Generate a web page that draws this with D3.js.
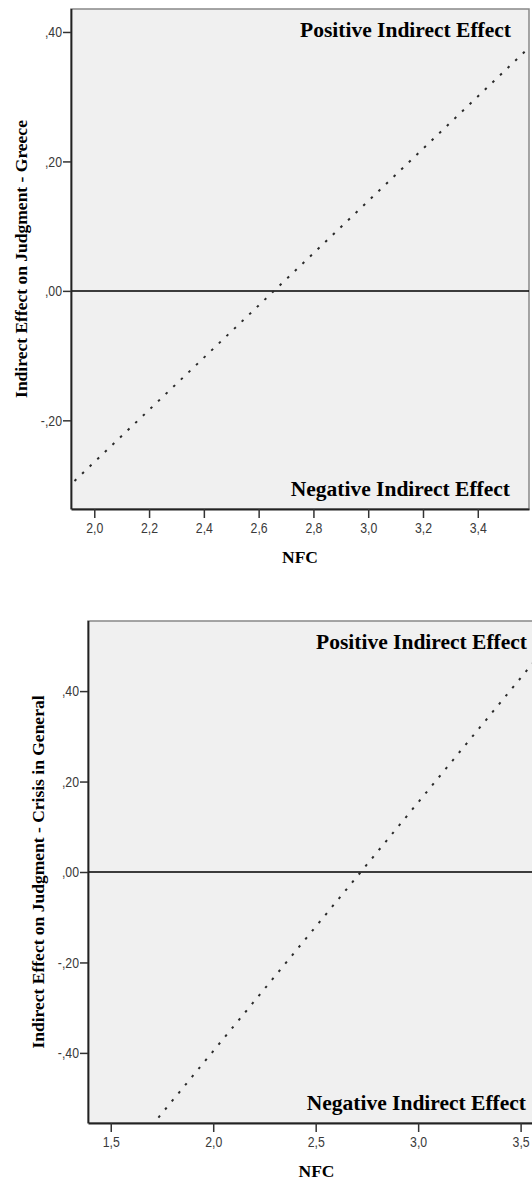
<!DOCTYPE html>
<html>
<head>
<meta charset="utf-8">
<script src="https://cdn.jsdelivr.net/npm/d3@7"></script>
<style>
  body { margin: 0; background: #fff; }
  .tick text { font-family: "Liberation Sans", Arial, sans-serif; font-size: 15px; fill: #3a3a3a; }
  .title { font-family: "Liberation Serif", "Times New Roman", serif; font-weight: bold; fill: #000; }
</style>
</head>
<body>
<div id="chart"></div>
<script>
// chart 1 - Greece
const greeceNfc = [1.9, 3.6];
const greeceEffect = [-0.305, 0.381];
const greeceXTicks = [2.0, 2.2, 2.4, 2.6, 2.8, 3.0, 3.2, 3.4];
const greeceYTicks = [-0.2, 0.0, 0.2, 0.4];

// chart 2 - crisis in general
const crisisNfc = [1.7, 3.6];
const crisisEffect = [-0.561, 0.484];
const crisisXTicks = [1.5, 2.0, 2.5, 3.0, 3.5];
const crisisYTicks = [-0.4, -0.2, 0.0, 0.2, 0.4];

const xTitle = "NFC";
const posLabel = "Positive Indirect Effect";
const negLabel = "Negative Indirect Effect";

const narrow = 0.82; // squeeze tick labels to look like a narrow font

const svg = d3.select("#chart").append("svg")
    .attr("width", 532)
    .attr("height", 1182);

// comma decimal like SPSS: 0.4 -> ",40"
const fmtY = d => {
  let s = Math.abs(d).toFixed(2).replace(/^0\./, ",");
  return (d < -1e-9 ? "-" : "") + s;
};
const fmtX = d => d.toFixed(1).replace(".", ",");

function drawChart(cfg, idx) {
  const g = svg.append("g");

  const x = d3.scaleLinear().domain(cfg.xDomain).range([cfg.left, cfg.right]);
  const y = d3.scaleLinear().domain(cfg.yDomain).range([cfg.bottom, cfg.top]);

  // plot background
  g.append("rect")
      .attr("x", cfg.left).attr("y", cfg.top)
      .attr("width", cfg.right - cfg.left).attr("height", cfg.bottom - cfg.top)
      .attr("fill", "#f0f0f0")
      .attr("stroke", "#888").attr("stroke-width", 1.5);

  const clipId = "clip" + idx;
  g.append("clipPath").attr("id", clipId)
    .append("rect")
      .attr("x", cfg.left).attr("y", cfg.top)
      .attr("width", cfg.right - cfg.left).attr("height", cfg.bottom - cfg.top);

  // zero reference line
  g.append("line")
      .attr("x1", cfg.left).attr("x2", cfg.right)
      .attr("y1", y(0)).attr("y2", y(0))
      .attr("stroke", "#000").attr("stroke-width", 1.5);

  // dotted effect line
  const pts = cfg.nfc.map((v, i) => [v, cfg.effect[i]]);
  g.append("path")
      .datum(pts)
      .attr("clip-path", `url(#${clipId})`)
      .attr("fill", "none")
      .attr("stroke", "#2a2a2a")
      .attr("stroke-width", 2)
      .attr("stroke-dasharray", "2.5,8")
      .attr("d", d3.line().x(d => x(d[0])).y(d => y(d[1])));

  // axes
  const xAxis = g.append("g")
      .attr("transform", `translate(0,${cfg.bottom})`)
      .call(d3.axisBottom(x).tickValues(cfg.xTicks).tickFormat(fmtX).tickSize(9).tickPadding(4).tickSizeOuter(0));
  const yAxis = g.append("g")
      .attr("transform", `translate(${cfg.left},0)`)
      .call(d3.axisLeft(y).tickValues(cfg.yTicks).tickFormat(fmtY).tickSize(8).tickPadding(1).tickSizeOuter(0));
  [xAxis, yAxis].forEach(a => {
    a.select(".domain").attr("stroke", "#222").attr("stroke-width", 1.8);
    a.selectAll(".tick line").attr("stroke", "#333").attr("stroke-width", 1.5);
    a.selectAll(".tick text").attr("transform", `scale(${narrow},1)`);
  });
  yAxis.selectAll(".tick text").attr("x", -9 / narrow);
  yAxis.select(".domain").attr("d", `M0.5,${cfg.top}V${cfg.bottom}`);

  // effect labels
  g.append("text").attr("class", "title")
      .attr("x", cfg.right - 18).attr("y", cfg.top + 28)
      .attr("text-anchor", "end").style("font-size", "21.5px")
      .text(posLabel);
  g.append("text").attr("class", "title")
      .attr("x", cfg.right - 19).attr("y", cfg.bottom - 13)
      .attr("text-anchor", "end").style("font-size", "21.5px")
      .text(negLabel);

  // axis titles
  g.append("text").attr("class", "title")
      .attr("x", (cfg.left + cfg.right) / 2).attr("y", cfg.bottom + 54)
      .attr("text-anchor", "middle").style("font-size", "17.5px")
      .text(xTitle);
  g.append("text").attr("class", "title")
      .attr("transform", `translate(${cfg.left - 44},${(cfg.top + cfg.bottom) / 2}) rotate(-90)`)
      .attr("text-anchor", "middle").style("font-size", "17.5px")
      .text(cfg.yTitle);
}

drawChart({
  left: 71, right: 529, top: 9, bottom: 509,
  xDomain: [1.915, 3.587], yDomain: [-0.337, 0.4355],
  xTicks: greeceXTicks, yTicks: greeceYTicks,
  nfc: greeceNfc, effect: greeceEffect,
  yTitle: "Indirect Effect on Judgment - Greece"
}, 0);

drawChart({
  left: 88, right: 545, top: 621, bottom: 1123,
  xDomain: [1.389, 3.619], yDomain: [-0.555, 0.555],
  xTicks: crisisXTicks, yTicks: crisisYTicks,
  nfc: crisisNfc, effect: crisisEffect,
  yTitle: "Indirect Effect on Judgment - Crisis in General"
}, 1);
</script>
</body>
</html>
